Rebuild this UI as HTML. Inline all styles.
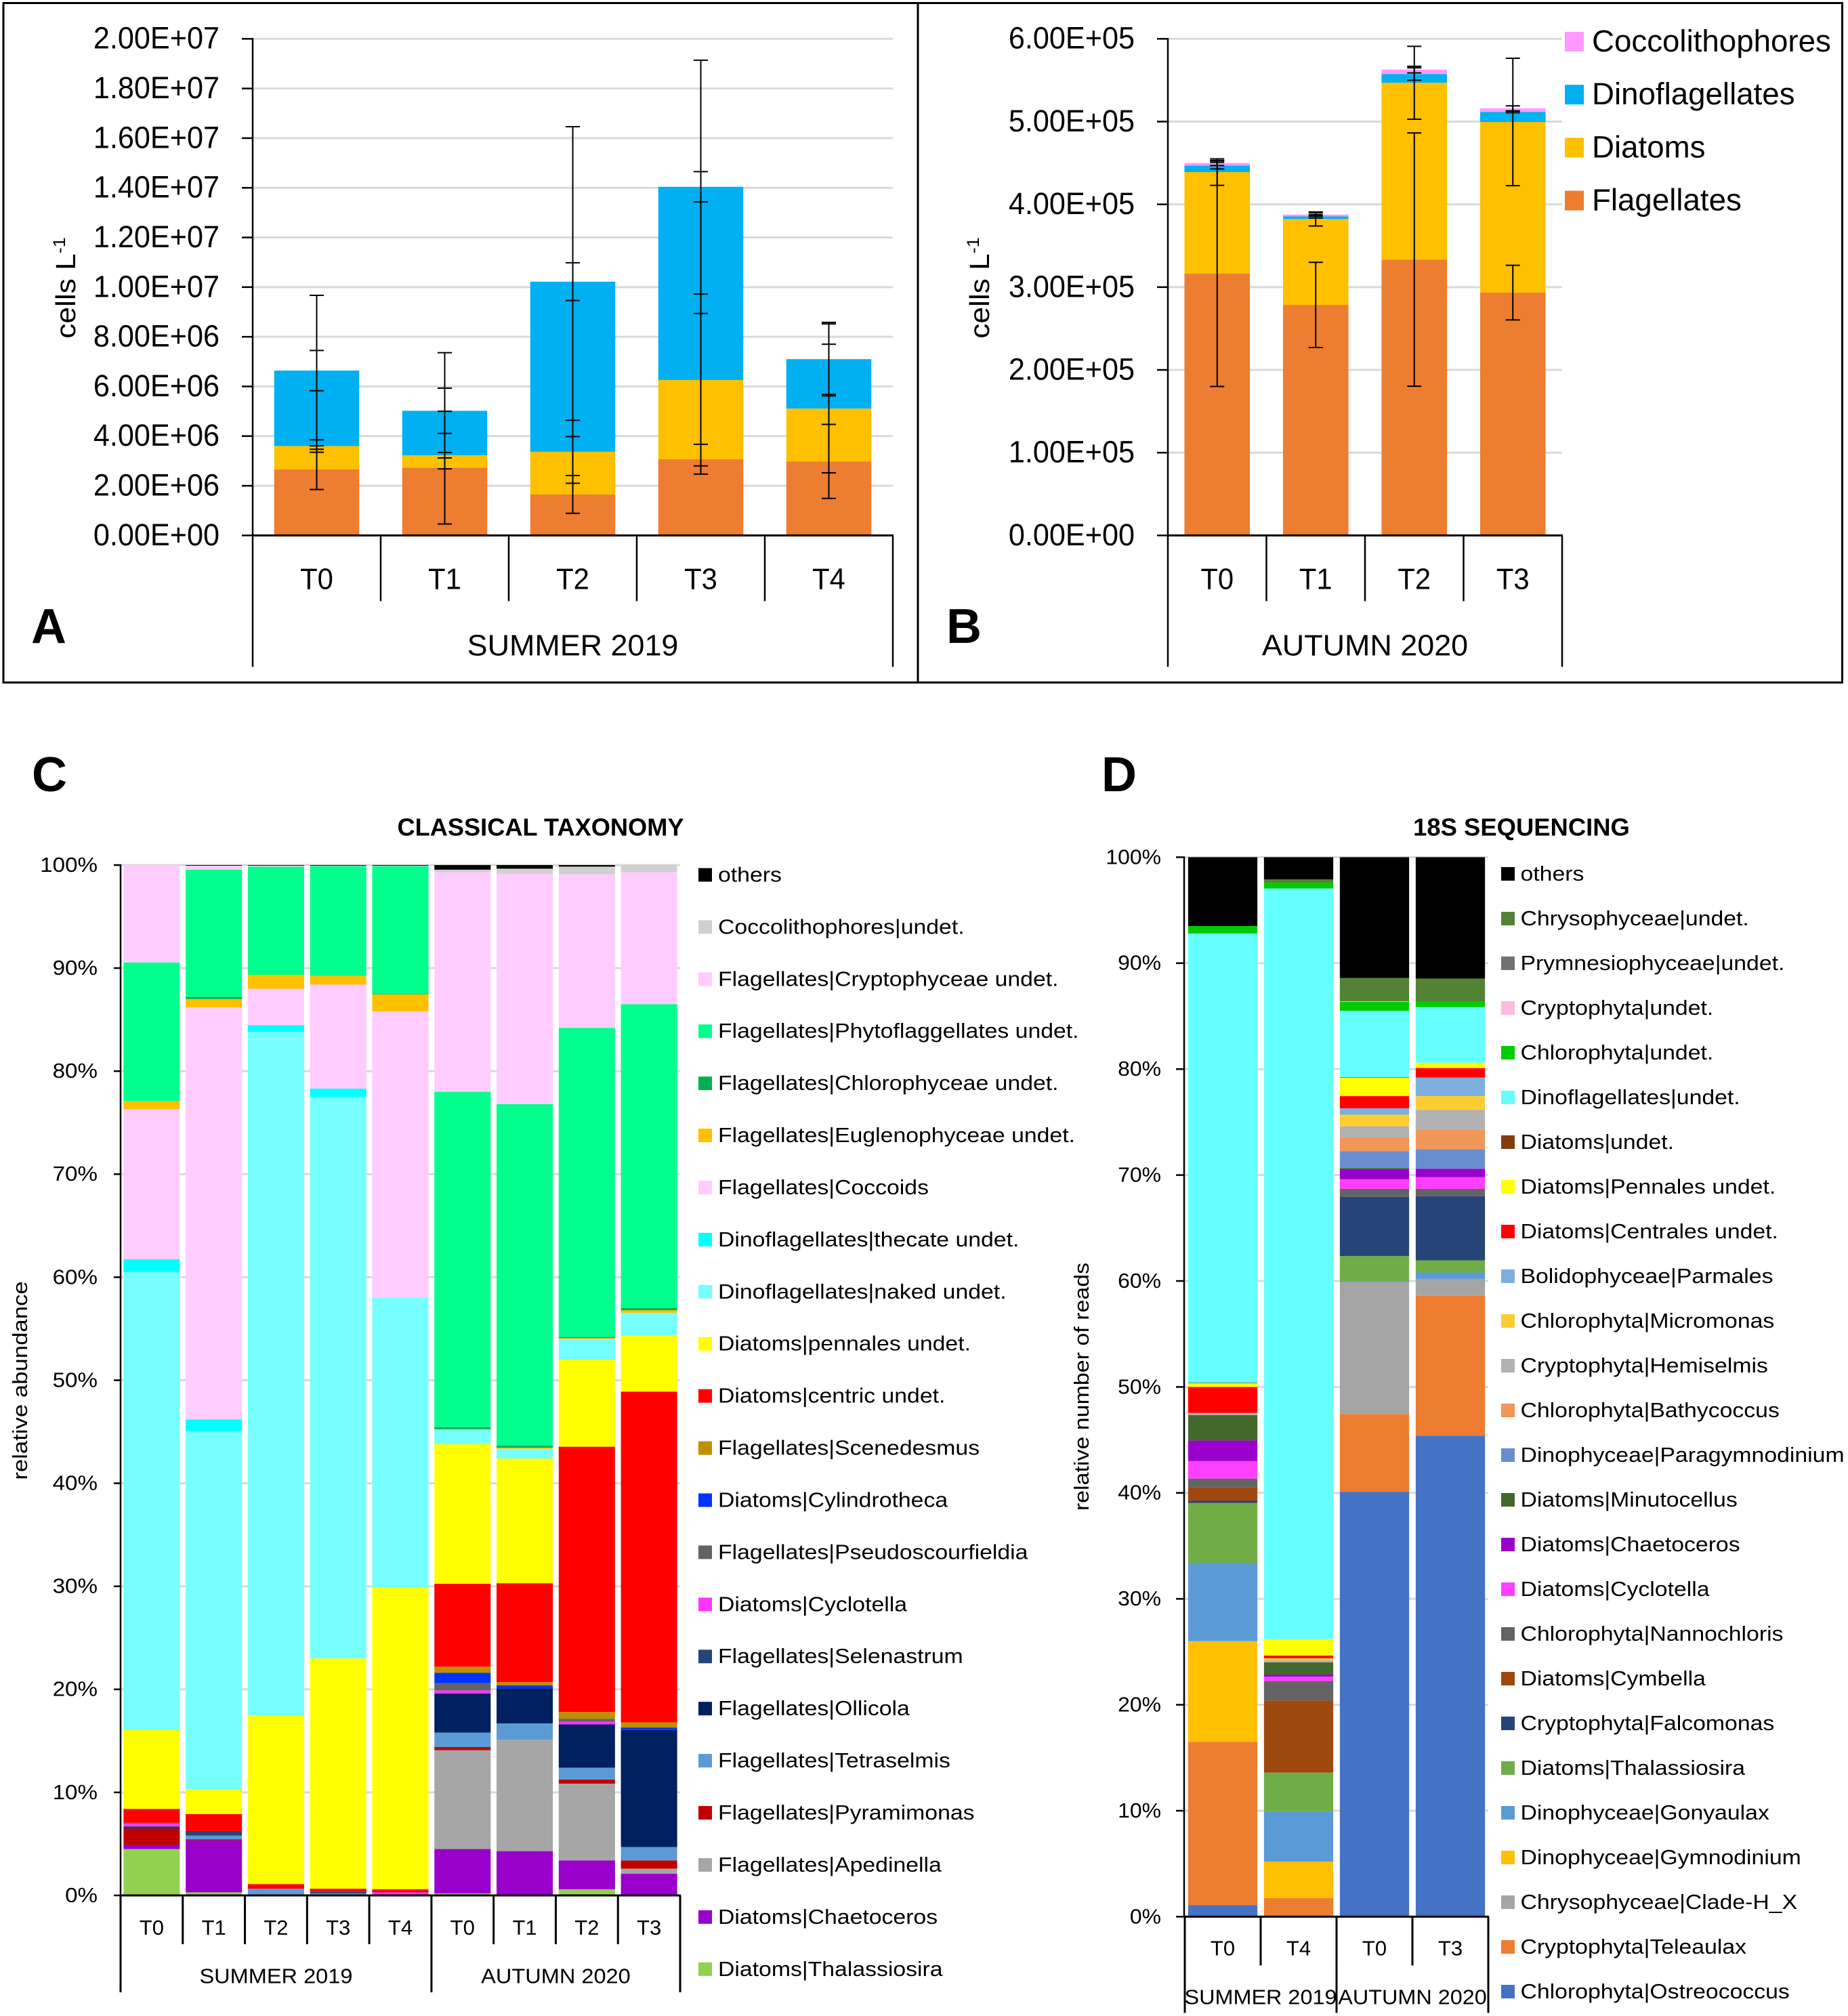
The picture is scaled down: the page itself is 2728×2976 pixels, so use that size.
<!DOCTYPE html>
<html lang="en">
<head>
<meta charset="utf-8">
<title>Phytoplankton abundance and community composition</title>
<style>
html,body{margin:0;padding:0;background:#fff;}
svg{display:block;}
text{font-family:"Liberation Sans",sans-serif;fill:#000;}
</style>
</head>
<body>
<svg id="fig" xmlns="http://www.w3.org/2000/svg" width="2728" height="2976" viewBox="0 0 2728 2976"></svg>
<script>
// ---------- Panel A data (cells per litre) ----------
const aCategories = ['T0','T1','T2','T3','T4'];
const aGroupLabel = 'SUMMER 2019';
const aTicks = ['0.00E+00','2.00E+06','4.00E+06','6.00E+06','8.00E+06','1.00E+07','1.20E+07','1.40E+07','1.60E+07','1.80E+07','2.00E+07'];
const aTickValues = [0,2e6,4e6,6e6,8e6,1e7,1.2e7,1.4e7,1.6e7,1.8e7,2e7];
const aFlagellates = [2660000,2730000,1650000,3070000,2980000];
const aDiatoms = [940000,500000,1720000,3190000,2130000];
const aDinoflagellates = [3040000,1790000,6850000,7780000,1990000];
const aCoccolithophores = [0,0,0,0,0];
const aErrFlagellates = [810000,2270000,760000,600000,1490000];
const aErrDiatoms = [250000,110000,1270000,3460000,2590000];
const aErrDinoflagellates = [810000,910000,760000,610000,1420000];
const aErrCoccolithophores = [3030000,2340000,6240000,5100000,1480000];

// ---------- Panel B data (cells per litre) ----------
const bCategories = ['T0','T1','T2','T3'];
const bGroupLabel = 'AUTUMN 2020';
const bTicks = ['0.00E+00','1.00E+05','2.00E+05','3.00E+05','4.00E+05','5.00E+05','6.00E+05'];
const bTickValues = [0,1e5,2e5,3e5,4e5,5e5,6e5];
const bFlagellates = [316300,278500,333300,293400];
const bDiatoms = [122700,103800,213600,206100];
const bDinoflagellates = [7800,3200,10600,12200];
const bCoccolithophores = [3200,2200,5300,4300];
const bErrFlagellates = [136300,51500,153000,33000];
const bErrDiatoms = [16000,8500,44000,77000];
const bErrDinoflagellates = [4000,2000,7500,1000];
const bErrCoccolithophores = [3000,2000,4000,3000];
const abLegendLabels = ['Coccolithophores','Dinoflagellates','Diatoms','Flagellates'];
const abLegendColors = ['#FF99FF','#00B0F0','#FFC000','#ED7D31'];

// ---------- Panel C data (percent per sample) ----------
const cCategories = ['T0','T1','T2','T3','T4','T0','T1','T2','T3'];
const cGroups = ['SUMMER 2019','AUTUMN 2020'];
const pctTicks = ['0%','10%','20%','30%','40%','50%','60%','70%','80%','90%','100%'];
const pctTickValues = [0,10,20,30,40,50,60,70,80,90,100];
const cThalassiosira = [4.5,.3,0,0,0,.2,0,.6,0];
const cChaetoceros = [.4,5.05,0,0,0,4.3,4.3,2.8,2.1];
const cApedinella = [0,0,0,0,0,9.6,10.8,7.45,.5];
const cPyramimonas = [1.6,.1,0,0,0,.3,0,.4,.8];
const cTetraselmis = [0,.35,.65,.2,0,1.4,1.6,1.15,1.3];
const cOllicola = [.1,0,0,0,0,3.8,3.4,4.2,11.35];
const cSelenastrum = [.1,.45,0,.15,0,0,0,0,0];
const cCyclotella = [.25,0,0,0,.3,.3,0,.25,0];
const cPseudoscourfieldia = [.1,0,0,0,0,.7,0,.3,0];
const cCylindrotheca = [0,0,0,0,0,1,.3,0,.25];
const cScenedesmus = [0,0,0,0,0,.6,.3,.65,.5];
const cCentric = [1.35,1.65,.45,.3,.3,8.05,9.6,25.75,32.1];
const cPennales = [7.65,2.4,16.35,22.35,29.3,13.55,12.1,8.45,5.45];
const cNaked = [44.45,34.75,66.35,54.5,28.1,1.4,.95,2,2.2];
const cThecate = [1.25,1.15,.65,.8,0,0,0,0,0];
const cCoccoids = [14.55,40,3.55,10.1,27.8,0,0,0,0];
const cEuglenophyceae = [.8,.8,1.35,.85,1.65,.05,.1,.1,.25];
const cChlorophyceae = [0,.2,0,0,.05,.2,.2,.1,.2];
const cPhytoflag = [13.45,12.35,10.5,10.65,12.4,32.55,33.15,30,29.5];
const cCryptophyceae = [9.45,.39,.09,.04,.04,21.3,22.35,14.9,12.8];
const cCoccolithophores = [0,0,0,0,0,.25,.5,.75,.7];
const cOthers = [0,.06,.06,.06,.06,.45,.35,.15,0];
const cLabels = ['Diatoms|Thalassiosira','Diatoms|Chaetoceros','Flagellates|Apedinella','Flagellates|Pyramimonas','Flagellates|Tetraselmis','Flagellates|Ollicola','Flagellates|Selenastrum','Diatoms|Cyclotella','Flagellates|Pseudoscourfieldia','Diatoms|Cylindrotheca','Flagellates|Scenedesmus','Diatoms|centric undet.','Diatoms|pennales undet.','Dinoflagellates|naked undet.','Dinoflagellates|thecate undet.','Flagellates|Coccoids','Flagellates|Euglenophyceae undet.','Flagellates|Chlorophyceae undet.','Flagellates|Phytoflaggellates undet.','Flagellates|Cryptophyceae undet.','Coccolithophores|undet.','others'];
const cColors = ['#92D050','#9900CC','#A6A6A6','#C00000','#5B9BD5','#002060','#264478','#FF33FF','#636363','#0033FF','#BF8F00','#FF0000','#FFFF00','#75FFFF','#00FFFF','#FFCCFF','#FFC000','#00B050','#00FF8C','#FFCCFF','#D0D0D0','#000000'];
const cSeries = [cThalassiosira,cChaetoceros,cApedinella,cPyramimonas,cTetraselmis,cOllicola,cSelenastrum,cCyclotella,cPseudoscourfieldia,cCylindrotheca,cScenedesmus,cCentric,cPennales,cNaked,cThecate,cCoccoids,cEuglenophyceae,cChlorophyceae,cPhytoflag,cCryptophyceae,cCoccolithophores,cOthers];

// ---------- Panel D data (percent per sample) ----------
const dCategories = ['T0','T4','T0','T3'];
const dGroups = ['SUMMER 2019','AUTUMN 2020'];
const dOstreococcus = [1.1,0,40.1,45.4];
const dTeleaulax = [15.4,1.75,7.35,13.2];
const dCladeHX = [0,0,12.45,1.6];
const dGymnodinium = [9.5,3.45,0,0];
const dGonyaulax = [7.4,4.75,.1,.6];
const dThalassiosira = [5.65,3.65,2.35,1.15];
const dFalcomonas = [.2,0,5.6,6.05];
const dCymbella = [1.3,6.8,0,0];
const dNannochloris = [.8,1.85,.75,.7];
const dCyclotella = [1.65,.4,.9,1.1];
const dChaetoceros = [1.95,.2,.95,.8];
const dMinutocellus = [2.4,1.15,.1,0];
const dParagymnodinium = [0,0,1.6,1.85];
const dBathycoccus = [0,0,1.3,1.85];
const dHemiselmis = [.2,.2,1.05,1.85];
const dMicromonas = [0,.2,1.1,1.3];
const dParmales = [0,0,.6,1.75];
const dCentrales = [2.45,.25,1.15,.9];
const dPennales = [.35,1.55,1.75,.5];
const dDiatomsUndet = [.05,0,.05,0];
const dDinoUndet = [42.4,70.85,6.25,5.25];
const dChlorophytaUndet = [.7,.55,.85,.5];
const dCryptophytaUndet = [0,0,.05,0];
const dPrymnesioUndet = [0,0,0,0];
const dChrysoUndet = [0,.3,2.2,2.2];
const dOthers = [6.5,2.1,11.4,11.45];
const dLabels = ['Chlorophyta|Ostreococcus','Cryptophyta|Teleaulax','Chrysophyceae|Clade-H_X','Dinophyceae|Gymnodinium','Dinophyceae|Gonyaulax','Diatoms|Thalassiosira','Cryptophyta|Falcomonas','Diatoms|Cymbella','Chlorophyta|Nannochloris','Diatoms|Cyclotella','Diatoms|Chaetoceros','Diatoms|Minutocellus','Dinophyceae|Paragymnodinium','Chlorophyta|Bathycoccus','Cryptophyta|Hemiselmis','Chlorophyta|Micromonas','Bolidophyceae|Parmales','Diatoms|Centrales undet.','Diatoms|Pennales undet.','Diatoms|undet.','Dinoflagellates|undet.','Chlorophyta|undet.','Cryptophyta|undet.','Prymnesiophyceae|undet.','Chrysophyceae|undet.','others'];
const dColors = ['#4472C4','#ED7D31','#A5A5A5','#FFC000','#5B9BD5','#70AD47','#264478','#9E480E','#636363','#FF3FFF','#9900CC','#43682B','#698ED0','#F1975A','#B2B2B2','#FFCD33','#7CAFDD','#FF0000','#FFFF00','#843C0C','#66FFFF','#00CC00','#FFB9DF','#767171','#548235','#000000'];
const dSeries = [dOstreococcus,dTeleaulax,dCladeHX,dGymnodinium,dGonyaulax,dThalassiosira,dFalcomonas,dCymbella,dNannochloris,dCyclotella,dChaetoceros,dMinutocellus,dParagymnodinium,dBathycoccus,dHemiselmis,dMicromonas,dParmales,dCentrales,dPennales,dDiatomsUndet,dDinoUndet,dChlorophytaUndet,dCryptophytaUndet,dPrymnesioUndet,dChrysoUndet,dOthers];

// ---------- helpers ----------
const svg = document.getElementById('fig');
const NS = 'http://www.w3.org/2000/svg';
function slug(s){ return String(s).toLowerCase().replace(/[^a-z0-9]+/g,'-').replace(/^-|-$/g,''); }
function mk(tag, attrs, name){
  const el = document.createElementNS(NS, tag);
  for (const k in attrs) el.setAttribute(k, attrs[k]);
  
  
  svg.appendChild(el);
  return el;
}
function line(x1,y1,x2,y2,color,w,name){
  return mk('line',{x1:x1,y1:y1,x2:x2,y2:y2,stroke:color,'stroke-width':w},name);
}
function rect(x,y,w,h,fill,name){
  return mk('rect',{x:x,y:y,width:w,height:h,fill:fill},name);
}
// text centred vertically on y; sx = horizontal glyph stretch; rot = rotation in degrees
function label(x,y,str,size,anchor,sx,name,opts){
  opts = opts || {};
  const rot = opts.rot || 0;
  const el = mk('text',{
    transform:'translate('+x+','+y+') rotate('+rot+') scale('+sx+',1)',
    'font-size':size,
    'text-anchor':anchor,
    y:size*0.32
  },name);
  if (opts.weight) el.setAttribute('font-weight',opts.weight);
  el.textContent = str;
  return el;
}

// ---------- panel frames ----------
rect(5,4.5,2714.5,1003,'none','panels-frame').setAttribute('stroke','#000');
svg.lastChild.setAttribute('stroke-width','3');
line(1355,4,1355,1008,'#000',3,'panel-divider');

// ---------- panels A and B (absolute abundance with error bars) ----------
function absoluteChart(cfg){
  const plotW = cfg.right - cfg.left;
  const band = plotW / cfg.categories.length;
  const yScale = v => cfg.bottom - v / cfg.max * (cfg.bottom - cfg.top);
  const xCenter = i => cfg.left + band * (i + .5);
  const barW = band * cfg.barRatio;

  cfg.tickValues.forEach((v,i) => {
    if (v > 0) line(cfg.left, yScale(v), cfg.right, yScale(v), '#D9D9D9', 3, cfg.id+'-gridline-'+i);
    line(cfg.left-16, yScale(v), cfg.left, yScale(v), '#000', 2.5, cfg.id+'-y-tick-'+i);
    label(cfg.left-49, yScale(v), cfg.ticks[i], 45, 'end', .96, cfg.id+'-y-tick-label-'+i);
  });

  cfg.series.forEach((vals,s) => {
    vals.forEach((v,i) => {
      let base = 0;
      for (let k=0;k<s;k++) base += cfg.series[k][i];
      if (v > 0) rect(xCenter(i)-barW/2, yScale(base+v), barW, yScale(base)-yScale(base+v), cfg.colors[s], cfg.id+'-bar-'+slug(cfg.seriesNames[s])+'-'+i);
    });
  });
  cfg.series.forEach((vals,s) => {
    vals.forEach((v,i) => {
      let top = 0;
      for (let k=0;k<=s;k++) top += cfg.series[k][i];
      const e = cfg.errors[s][i];
      const c = xCenter(i);
      line(c, yScale(top+e), c, yScale(top-e), '#000', 2, cfg.id+'-error-stem-'+slug(cfg.seriesNames[s])+'-'+i);
      line(c-10.5, yScale(top+e), c+10.5, yScale(top+e), '#000', 2, cfg.id+'-error-cap-high-'+slug(cfg.seriesNames[s])+'-'+i);
      line(c-10.5, yScale(top-e), c+10.5, yScale(top-e), '#000', 2, cfg.id+'-error-cap-low-'+slug(cfg.seriesNames[s])+'-'+i);
    });
  });

  line(cfg.left, cfg.top-1, cfg.left, cfg.bottom+1, '#000', 2.5, cfg.id+'-y-axis');
  line(cfg.left-1, cfg.bottom, cfg.right+1, cfg.bottom, '#000', 3, cfg.id+'-x-axis');
  cfg.categories.forEach((c,i) => {
    label(xCenter(i), cfg.bottom+65, c, 44, 'middle', .95, cfg.id+'-x-label-'+i);
    if (i>0) line(cfg.left+band*i, cfg.bottom, cfg.left+band*i, cfg.bottom+97, '#000', 2.5, cfg.id+'-x-separator-'+i);
  });
  line(cfg.left, cfg.bottom, cfg.left, cfg.bottom+194, '#000', 2.5, cfg.id+'-x-group-left-edge');
  line(cfg.right, cfg.bottom, cfg.right, cfg.bottom+194, '#000', 2.5, cfg.id+'-x-group-right-edge');
  label((cfg.left+cfg.right)/2, cfg.bottom+163, cfg.group, 44, 'middle', 1.02, cfg.id+'-group-label');

  const t = label(cfg.titleX, 425, 'cells L', 41, 'middle', 1, cfg.id+'-y-axis-title', {rot:-90});
  t.setAttribute('transform','translate('+cfg.titleX+',425) rotate(-90) scale(1.08,1)');
  const sup = document.createElementNS(NS,'tspan');
  sup.setAttribute('font-size','25');
  sup.setAttribute('dy','-15');
  
  
  sup.textContent = '-1';
  t.appendChild(sup);
  label(cfg.letterX, 926, cfg.letter, 72, 'start', 1, cfg.id+'-panel-letter', {weight:'bold'});
}

absoluteChart({
  id:'panel-a', letter:'A', letterX:46, titleX:98,
  left:373, right:1318, top:57.3, bottom:790.4, max:2e7, barRatio:.664,
  categories:aCategories, group:aGroupLabel, ticks:aTicks, tickValues:aTickValues,
  series:[aFlagellates,aDiatoms,aDinoflagellates,aCoccolithophores],
  errors:[aErrFlagellates,aErrDiatoms,aErrDinoflagellates,aErrCoccolithophores],
  seriesNames:['flagellates','diatoms','dinoflagellates','coccolithophores'],
  colors:['#ED7D31','#FFC000','#00B0F0','#FF99FF']
});
absoluteChart({
  id:'panel-b', letter:'B', letterX:1397, titleX:1447,
  left:1724, right:2306, top:57.3, bottom:790.4, max:6e5, barRatio:.664,
  categories:bCategories, group:bGroupLabel, ticks:bTicks, tickValues:bTickValues,
  series:[bFlagellates,bDiatoms,bDinoflagellates,bCoccolithophores],
  errors:[bErrFlagellates,bErrDiatoms,bErrDinoflagellates,bErrCoccolithophores],
  seriesNames:['flagellates','diatoms','dinoflagellates','coccolithophores'],
  colors:['#ED7D31','#FFC000','#00B0F0','#FF99FF']
});
abLegendLabels.forEach((name,i) => {
  const cy = 61.5 + i*78.2;
  rect(2310, cy-14.5, 28, 29, abLegendColors[i], 'panel-b-legend-swatch-'+slug(name));
  label(2350, cy, name, 45, 'start', 1.015, 'panel-b-legend-label-'+slug(name));
});

// ---------- panels C and D (relative composition) ----------
function stackedChart(cfg){
  const n = cfg.categories.length;
  const band = (cfg.right-cfg.left)/n;
  const yScale = v => cfg.bottom - v/100*(cfg.bottom-cfg.top);
  const xCenter = i => cfg.left + band*(i+.5);
  const barW = band*cfg.barRatio;

  pctTickValues.forEach((v,i) => {
    if (v > 0) line(cfg.axisX, yScale(v), cfg.right+cfg.gridExtra, yScale(v), '#D9D9D9', 3, cfg.id+'-gridline-'+i);
    line(cfg.axisX-cfg.tickLen, yScale(v), cfg.axisX, yScale(v), '#000', 2.5, cfg.id+'-y-tick-'+i);
    label(cfg.tickLabelX, yScale(v), pctTicks[i], 31, 'end', cfg.tickSx, cfg.id+'-y-tick-label-'+i);
  });
  cfg.series.forEach((vals,s) => {
    vals.forEach((v,i) => {
      if (!(v > 0)) return;
      let base = 0;
      for (let k=0;k<s;k++) base += cfg.series[k][i];
      rect(xCenter(i)-barW/2, yScale(base+v), barW, yScale(base)-yScale(base+v), cfg.colors[s], cfg.id+'-bar-'+slug(cfg.labels[s])+'-'+i);
    });
  });
  line(cfg.axisX, cfg.top-1, cfg.axisX, cfg.bottom+1, '#000', 2.5, cfg.id+'-y-axis');
  line(cfg.axisX-1, cfg.bottom, cfg.right+1, cfg.bottom, '#000', 3, cfg.id+'-x-axis');
  cfg.categories.forEach((c,i) => {
    label(xCenter(i), cfg.bottom+cfg.catY, c, 31, 'middle', cfg.catSx, cfg.id+'-x-label-'+i);
    line(cfg.left+band*i, cfg.bottom, cfg.left+band*i, cfg.bottom+cfg.sepLen, '#000', 3, cfg.id+'-x-separator-'+i);
  });
  line(cfg.right, cfg.bottom, cfg.right, cfg.bottom+cfg.sepLen, '#000', 3, cfg.id+'-x-separator-end');
  const split = cfg.left + band*cfg.groupSplit;
  [cfg.left, split, cfg.right].forEach((x,i) => {
    line(x, cfg.bottom+cfg.sepLen, x, cfg.bottom+cfg.outerLen, '#000', 3, cfg.id+'-group-edge-'+i);
  });
  label((cfg.left+split)/2, cfg.bottom+cfg.groupY, cfg.groups[0], 31, 'middle', cfg.groupSx, cfg.id+'-group-label-summer');
  label((split+cfg.right)/2, cfg.bottom+cfg.groupY, cfg.groups[1], 31, 'middle', cfg.groupSx, cfg.id+'-group-label-autumn');

  label(cfg.titleCx, 1222, cfg.title, 36, 'middle', cfg.titleSx, cfg.id+'-title', {weight:'bold'});
  label(cfg.letterX, 1145, cfg.letter, 72, 'start', 1, cfg.id+'-panel-letter', {weight:'bold'});
  label(cfg.yTitleX, cfg.yTitleY, cfg.yTitle, 31, 'middle', cfg.yTitleSx, cfg.id+'-y-axis-title', {rot:-90});

  for (let r=0;r<cfg.labels.length;r++){
    const s = cfg.labels.length-1-r;
    const cy = cfg.legendTop + r*cfg.legendStep;
    rect(cfg.swatchX, cy-10, 20, 20, cfg.colors[s], cfg.id+'-legend-swatch-'+slug(cfg.labels[s]));
    label(cfg.legendTextX, cy, cfg.labels[s], cfg.legendSize, 'start', cfg.legendSx, cfg.id+'-legend-label-'+slug(cfg.labels[s]));
  }
}

stackedChart({
  id:'panel-c', letter:'C', letterX:47, title:'CLASSICAL TAXONOMY', titleCx:798, titleSx:1.006,
  yTitle:'relative abundance', yTitleX:30, yTitleY:2038, yTitleSx:1.12,
  left:178, right:1004, axisX:178, gridExtra:0, top:1277, bottom:2798, barRatio:.905,
  tickLen:10, tickLabelX:144, tickSx:1.07, catY:48, catSx:1.0, sepLen:72, outerLen:143, groupY:119.5, groupSx:1.05,
  categories:cCategories, groups:cGroups, groupSplit:5,
  series:cSeries, labels:cLabels, colors:cColors,
  swatchX:1031, legendTextX:1060, legendTop:1291.5, legendStep:76.92, legendSize:31, legendSx:1.09
});
stackedChart({
  id:'panel-d', letter:'D', letterX:1626, title:'18S SEQUENCING', titleCx:2246, titleSx:1.012,
  yTitle:'relative number of reads', yTitleX:1597, yTitleY:2047, yTitleSx:1.096,
  left:1749, right:2197, axisX:1748, gridExtra:0, top:1265.4, bottom:2829.4, barRatio:.913,
  tickLen:12, tickLabelX:1714, tickSx:1.03, catY:47, catSx:1.0, sepLen:72, outerLen:142, groupY:119, groupSx:1.045,
  categories:dCategories, groups:dGroups, groupSplit:2,
  series:dSeries, labels:dLabels, colors:dColors,
  swatchX:2216, legendTextX:2244.5, legendTop:1290, legendStep:66, legendSize:31, legendSx:1.09
});
</script>
</body>
</html>
